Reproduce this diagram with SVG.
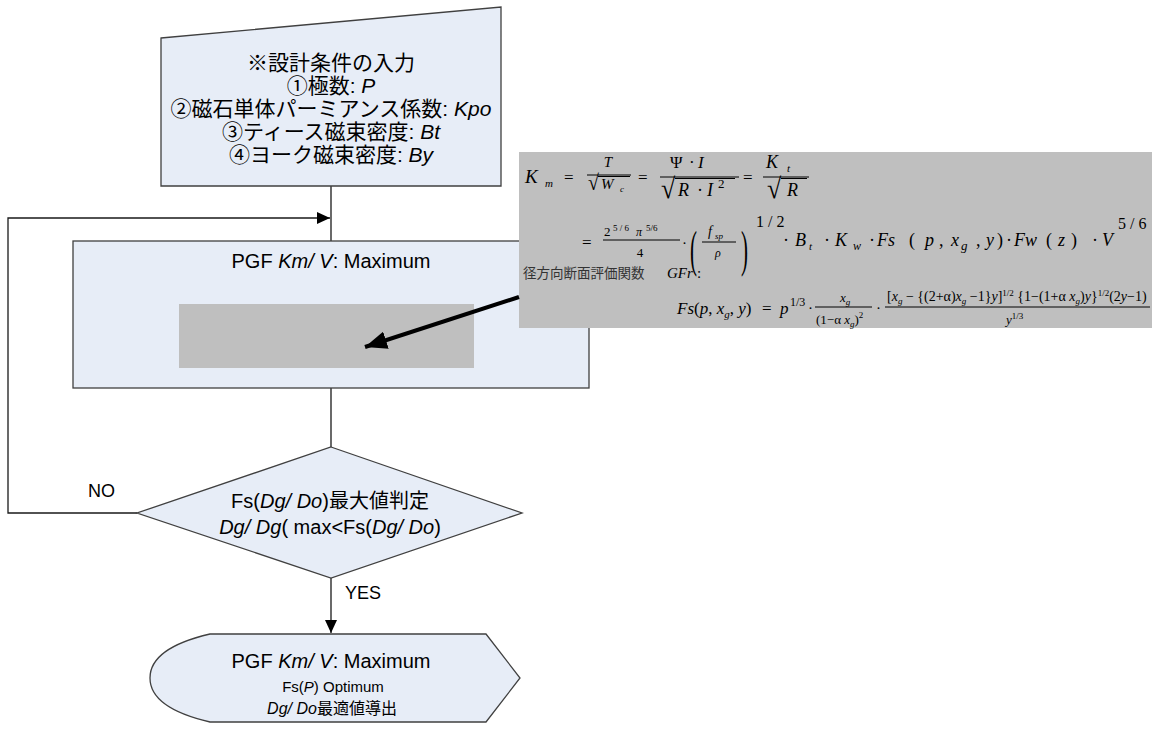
<svg xmlns="http://www.w3.org/2000/svg" width="1152" height="731" viewBox="0 0 1152 731">
<style>
.shape{fill:#e7edf7;stroke:#404040;stroke-width:1.3}
.conn{fill:none;stroke:#1a1a1a;stroke-width:1.3}
.t{font-family:"Liberation Sans","Noto Sans CJK JP",sans-serif;fill:#000}
.i{font-style:italic}
.m{font-family:"Liberation Serif","Noto Sans CJK JP",serif;font-style:italic;fill:#000}
.r{font-family:"Liberation Serif",serif;font-style:normal;fill:#000}
.bar{stroke:#000;stroke-width:1}
</style>
<defs>
<marker id="ah" markerUnits="userSpaceOnUse" markerWidth="14" markerHeight="12" refX="13" refY="6" orient="auto"><path d="M0,0 L13,6 L0,12 Z" fill="#000"/></marker>
<marker id="ahb" markerUnits="userSpaceOnUse" markerWidth="24" markerHeight="18" refX="22" refY="9" orient="auto"><path d="M0,0 L22,9 L0,18 Z" fill="#000"/></marker>
</defs>
<rect width="1152" height="731" fill="#fff"/>

<g id="connectors">
<line class="conn" x1="331" y1="186" x2="331" y2="241"/>
<polyline class="conn" points="137,513 8,513 8,218 330,218" marker-end="url(#ah)"/>
<line class="conn" x1="331" y1="388" x2="331" y2="447"/>
<line class="conn" x1="331" y1="578" x2="331" y2="633" marker-end="url(#ah)"/>
<text class="t" x="88" y="497" font-size="18">NO</text>
<text class="t" x="345" y="599" font-size="18">YES</text>
</g>

<g id="input">
<polygon class="shape" points="161,38 501,7 501,186 161,186"/>
<g class="t" font-size="21" text-anchor="middle">
<text x="331" y="70">※設計条件の入力</text>
<text x="331" y="93">①極数: <tspan class="i">P</tspan></text>
<text x="331" y="116">②磁石単体パーミアンス係数: <tspan class="i">Kpo</tspan></text>
<text x="331" y="139">③ティース磁束密度: <tspan class="i">Bt</tspan></text>
<text x="331" y="162">④ヨーク磁束密度: <tspan class="i">By</tspan></text>
</g>
</g>

<g id="process">
<rect class="shape" x="73" y="241" width="516" height="147"/>
<text class="t" x="331" y="268" font-size="20" text-anchor="middle">PGF <tspan class="i">Km/ V</tspan>: Maximum</text>
<rect x="179" y="304" width="295" height="64" fill="#bfbfbf"/>
</g>

<g id="decision">
<polygon class="shape" points="331,447 522,513 331,578 137,513"/>
<g class="t" font-size="20" text-anchor="middle">
<text x="330" y="508">Fs(<tspan class="i">Dg/ Do</tspan>)最大値判定</text>
<text x="330" y="534"><tspan class="i">Dg/ Dg</tspan>( max&lt;Fs(<tspan class="i">Dg/ Do</tspan>)</text>
</g>
</g>

<g id="result">
<path class="shape" d="M210,634 L486,634 L520,678 L486,722 L210,722 Q150,708 150,678 Q150,648 210,634 Z"/>
<g class="t" text-anchor="middle">
<text x="331" y="668" font-size="20">PGF <tspan class="i">Km/ V</tspan>: Maximum</text>
<text x="333" y="692" font-size="15">Fs(<tspan class="i">P</tspan>)  Optimum</text>
<text x="332" y="714" font-size="16"><tspan class="i">Dg/ Do</tspan>最適値導出</text>
</g>
</g>

<g id="formula">
<rect x="519" y="152" width="633" height="176" fill="#bfbfbf"/>
<!-- line 1 -->
<text class="m" x="525" y="183" font-size="19">K</text>
<text class="m" x="545" y="187" font-size="11">m</text>
<text class="r" x="564" y="183" font-size="17">=</text>
<text class="m" x="608" y="167" font-size="15" text-anchor="middle">T</text>
<line class="bar" x1="587" y1="175" x2="631" y2="175"/>
<text class="r" x="588" y="190" font-size="20" transform="translate(588 190) scale(1 1.1) translate(-588 -190)">√</text>
<line class="bar" x1="598" y1="176.5" x2="630" y2="176.5"/>
<text class="m" x="601" y="189" font-size="15">W</text>
<text class="m" x="620" y="192" font-size="9">c</text>
<text class="r" x="638" y="183" font-size="17">=</text>
<text class="r" x="670" y="168" font-size="17">Ψ</text>
<text class="r" x="689" y="168" font-size="17">·</text>
<text class="m" x="698" y="168" font-size="17">I</text>
<line class="bar" x1="660" y1="177" x2="739" y2="177"/>
<text class="r" x="661" y="198" font-size="26" transform="translate(661 198) scale(1 1.1) translate(-661 -198)">√</text>
<line class="bar" x1="675" y1="178.5" x2="735" y2="178.5"/>
<text class="m" x="678" y="196" font-size="18">R</text>
<text class="r" x="697" y="196" font-size="18">·</text>
<text class="m" x="707" y="196" font-size="18">I</text>
<text class="r" x="718" y="188" font-size="13">2</text>
<text class="r" x="743" y="183" font-size="17">=</text>
<text class="m" x="766" y="168" font-size="18">K</text>
<text class="m" x="787" y="172" font-size="11">t</text>
<line class="bar" x1="763" y1="177" x2="809" y2="177"/>
<text class="r" x="767" y="198" font-size="26" transform="translate(767 198) scale(1 1.1) translate(-767 -198)">√</text>
<line class="bar" x1="781" y1="178.5" x2="807" y2="178.5"/>
<text class="m" x="787" y="196" font-size="18">R</text>
<!-- line 2 -->
<text class="r" x="582" y="248" font-size="17">=</text>
<text class="r" x="604" y="236" font-size="13">2</text>
<text class="r" x="613" y="231" font-size="9">5 / 6</text>
<text class="m" x="636" y="236" font-size="12">π</text>
<text class="r" x="646" y="231" font-size="9">5/6</text>
<line class="bar" x1="603" y1="240" x2="680" y2="240"/>
<text class="r" x="640" y="257" font-size="13" text-anchor="middle">4</text>
<text class="r" x="682" y="248" font-size="15">·</text>
<text class="r" x="690" y="258" font-size="30" transform="translate(690 247) scale(0.7 1.7) translate(-690 -247)">(</text>
<text class="m" x="708" y="236" font-size="14">f</text>
<text class="m" x="715" y="239" font-size="9">sp</text>
<line class="bar" x1="702" y1="242" x2="736" y2="242"/>
<text class="m" x="715" y="257" font-size="12">ρ</text>
<text class="r" x="741" y="258" font-size="30" transform="translate(741 247) scale(0.7 1.7) translate(-741 -247)">)</text>
<text class="r" x="756" y="227" font-size="16">1 / 2</text>
<g font-size="18">
<text class="r" x="783" y="246">·</text>
<text class="m" x="795" y="246">B</text>
<text class="m" x="809" y="250" font-size="11">t</text>
<text class="r" x="824" y="246">·</text>
<text class="m" x="835" y="246">K</text>
<text class="m" x="853" y="250" font-size="12">w</text>
<text class="r" x="869" y="246">·</text>
<text class="m" x="877" y="246">Fs</text>
<text class="r" x="909" y="246">(</text>
<text class="m" x="925" y="246">p</text>
<text class="r" x="939" y="246">,</text>
<text class="m" x="951" y="246">x</text>
<text class="m" x="961" y="250" font-size="13">g</text>
<text class="r" x="976" y="246">,</text>
<text class="m" x="986" y="246">y</text>
<text class="r" x="997" y="246">)</text>
<text class="r" x="1006" y="246">·</text>
<text class="m" x="1014" y="246">Fw</text>
<text class="r" x="1046" y="246">(</text>
<text class="m" x="1058" y="246">z</text>
<text class="r" x="1071" y="246">)</text>
<text class="r" x="1092" y="246">·</text>
<text class="m" x="1102" y="246">V</text>
</g>
<text class="r" x="1118" y="229" font-size="16">5 / 6</text>
<!-- line 3 -->
<text x="523" y="278" font-size="13.5" fill="#333" font-family="'Noto Sans CJK JP','Liberation Sans',sans-serif">径方向断面評価関数</text>
<text class="m" x="667" y="278" font-size="15">GFr</text>
<text class="r" x="697" y="278" font-size="15">:</text>
<!-- line 4 -->
<text class="m" x="677" y="314" font-size="17">Fs<tspan class="r">(</tspan>p<tspan class="r">,</tspan> x<tspan font-size="11" dy="4">g</tspan><tspan class="r" dy="-4">,</tspan> y<tspan class="r">)</tspan></text>
<text class="r" x="762" y="314" font-size="17">=</text>
<text class="m" x="780" y="314" font-size="17">p</text>
<text class="r" x="790" y="306" font-size="12">1/3</text>
<text class="r" x="808" y="313" font-size="15">·</text>
<text class="m" x="840" y="302" font-size="13">x<tspan font-size="9" dy="3">g</tspan></text>
<line class="bar" x1="815" y1="307" x2="872" y2="307"/>
<text class="r" x="816" y="324" font-size="13">(1−α <tspan class="m">x</tspan><tspan font-size="9" dy="3" class="m">g</tspan><tspan dy="-3">)</tspan><tspan font-size="9" dy="-6">2</tspan></text>
<text class="r" x="876" y="313" font-size="15">·</text>
<text class="r" x="887" y="301" font-size="14">[<tspan class="m">x</tspan><tspan font-size="9" dy="3" class="m">g</tspan><tspan dy="-3"> − {(2+α)</tspan><tspan class="m">x</tspan><tspan font-size="9" dy="3" class="m">g</tspan><tspan dy="-3"> −1}</tspan><tspan class="m">y</tspan>]<tspan font-size="9" dy="-5">1/2</tspan><tspan dy="5"> {1−(1+α </tspan><tspan class="m">x</tspan><tspan font-size="9" dy="3" class="m">g</tspan><tspan dy="-3">)</tspan><tspan class="m">y</tspan>}<tspan font-size="9" dy="-5">1/2</tspan><tspan dy="5">(2</tspan><tspan class="m">y</tspan>−1)</text>
<line class="bar" x1="885" y1="307" x2="1150" y2="307"/>
<text class="m" x="1006" y="324" font-size="13">y<tspan class="r" font-size="9" dy="-5">1/3</tspan></text>
</g>

<g id="pointer">
<line x1="519" y1="297" x2="365" y2="347" stroke="#000" stroke-width="4" marker-end="url(#ahb)"/>
</g>
</svg>
